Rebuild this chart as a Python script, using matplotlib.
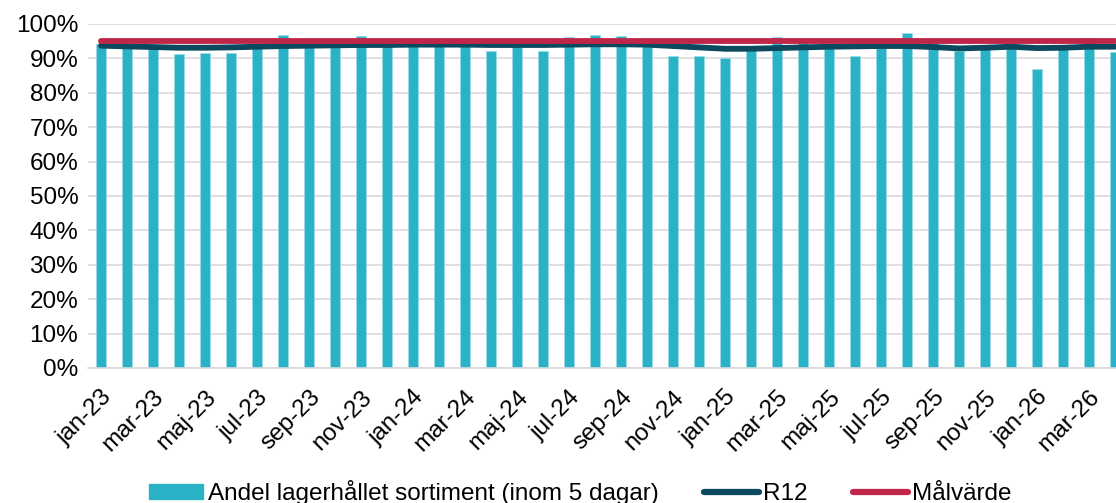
import numpy as np
import matplotlib.pyplot as plt
from matplotlib.ticker import PercentFormatter
from matplotlib.lines import Line2D
from matplotlib.patches import Patch

plt.rcParams['font.family'] = ['Liberation Sans', 'DejaVu Sans']

# months jan-23 .. apr-26
month_names = ['jan', 'feb', 'mar', 'apr', 'maj', 'jun',
               'jul', 'aug', 'sep', 'okt', 'nov', 'dec']
months = [f'{m}-{y}' for y in ['23', '24', '25', '26'] for m in month_names][:40]

# share in stock (within 5 days), %
andel = [94.2, 93.5, 94.0, 91.4, 91.7, 91.5, 94.0, 96.8, 94.0, 94.2,
         96.5, 94.5, 94.5, 94.5, 94.5, 92.2, 94.5, 92.2, 96.3, 96.9,
         96.6, 94.0, 90.8, 90.7, 90.0, 93.5, 96.1, 94.5, 94.0, 90.8,
         94.0, 97.4, 95.6, 92.2, 94.0, 94.5, 86.9, 94.0, 96.0, 91.9]

# rolling 12 months, %
r12 = [93.7, 93.5, 93.3, 93.1, 93.1, 93.2, 93.4, 93.6, 93.7, 93.8,
       93.9, 93.9, 94.0, 94.0, 94.0, 93.9, 93.9, 93.9, 94.0, 94.1,
       94.1, 94.0, 93.6, 93.2, 92.8, 92.8, 93.0, 93.2, 93.4, 93.5,
       93.6, 93.6, 93.3, 92.9, 93.1, 93.4, 93.0, 93.1, 93.4, 93.4]

malvarde = [95.0] * 40

bar_color = '#2AB3C6'
r12_color = '#0B4A5E'
target_color = '#C0264A'

fig = plt.figure(figsize=(11.16, 5.03), dpi=100)
ax = fig.add_axes([88 / 1116, 135 / 503, 1040 / 1116, 344 / 503])

x = np.arange(len(months))
vals = np.array(andel) / 100
ax.bar(x, vals, width=0.42, color=bar_color, edgecolor='#9ADCE6', linewidth=0.6, zorder=2)
ax.plot(x, np.array(r12) / 100, color=r12_color, lw=4.2, solid_capstyle='round', zorder=3)
ax.plot(x, np.array(malvarde) / 100, color=target_color, lw=4.2, solid_capstyle='round', zorder=4)

ax.set_xlim(-0.5, len(months) - 0.5)
ax.set_ylim(0, 1.0)
ax.set_yticks(np.arange(0, 1.01, 0.1))
ax.yaxis.set_major_formatter(PercentFormatter(1.0, decimals=0))
ax.grid(axis='y', color='#D9D9D9', lw=1.2, zorder=0)
ax.set_axisbelow(True)

ax.set_xticks(x[::2])
ax.set_xticklabels(months[::2], rotation=45, ha='right', va='top', rotation_mode='anchor')
ax.tick_params(axis='both', length=0, labelsize=17.5, colors='black')
ax.tick_params(axis='x', pad=13)
ax.tick_params(axis='y', pad=7)

for s in ['top', 'right', 'left']:
    ax.spines[s].set_visible(False)
ax.spines['bottom'].set_color('#D9D9D9')
ax.spines['bottom'].set_linewidth(1.2)

handles = [Patch(facecolor=bar_color, edgecolor=bar_color),
           Line2D([0], [0], color=r12_color, lw=4.5, solid_capstyle='round'),
           Line2D([0], [0], color=target_color, lw=4.5, solid_capstyle='round')]
labels = ['Andel lagerhållet sortiment (inom 5 dagar)', 'R12', 'Målvärde']
fig.legend(handles, labels, loc='lower center', bbox_to_anchor=(0.52, -0.048), ncol=3,
           frameon=False, fontsize=17.5, handlelength=2.25, handleheight=0.55,
           handletextpad=0.2, columnspacing=1.85)

fig.savefig('out.png', dpi=100)
